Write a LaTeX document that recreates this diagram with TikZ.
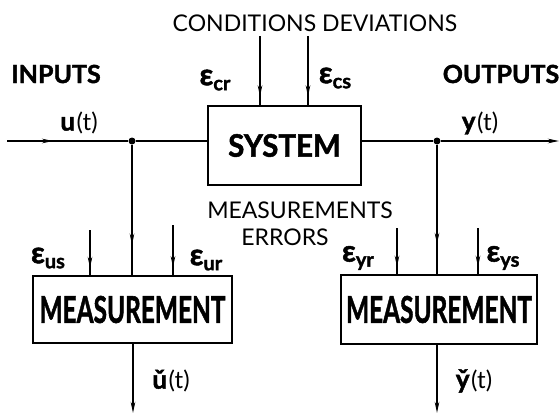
\documentclass[tikz,border=0pt]{standalone}
\usepackage{fontspec}
\setmainfont{Lato}[BoldFeatures={FakeBold=1.6}]
\usetikzlibrary{arrows.meta,positioning,decorations.markings}

\newcommand{\errlab}[1]{{\fontsize{30}{30}\selectfont\bfseries ε}\raisebox{-5pt}{\fontsize{20}{20}\selectfont\bfseries #1}}
\newcommand{\sigt}[1]{{\fontsize{26}{26}\selectfont\bfseries #1}\,{\fontsize{24}{24}\selectfont (t)}}

\begin{document}
\begin{tikzpicture}[x=1pt, y=-1pt,
  line/.style={line width=1.7pt},
  box/.style={draw, line width=2.6pt, inner sep=0pt},
  endtip/.style={-{Stealth[length=11pt,width=4.5pt]}},
  midtip/.style={postaction={decorate}, decoration={markings,
      mark=at position #1 with {\arrow{Stealth[length=11pt,width=4.5pt]}}}},
  dot/.style={circle, fill, inner sep=0pt, minimum size=7pt},
  headtxt/.style={font=\fontsize{25}{25}\selectfont\bfseries},
  plaintxt/.style={font=\fontsize{23}{23}\selectfont},
]
\useasboundingbox (0,0) rectangle (560,415);
% blocks
\node[box, minimum width=153pt, minimum height=79pt,
  font=\fontsize{31}{31}\selectfont\bfseries] (sys) at (284.5,145.5) {\scalebox{0.95}[1]{SYSTEM}};
\node[box, minimum width=199pt, minimum height=67pt,
  font=\fontsize{37}{37}\selectfont\bfseries] (measu) at (132.5,309.5) {\scalebox{0.66}[1]{MEASUREMENT}};
\node[box, minimum width=196pt, minimum height=69pt,
  font=\fontsize{37}{37}\selectfont\bfseries] (measy) at (439,309.5) {\scalebox{0.66}[1]{MEASUREMENT}};
% branch points and free ends
\node[dot] (ju) at (132,141) {};
\node[dot] (jy) at (437,141) {};
\coordinate (uin) at (7,141);
\coordinate (yout) at (559,141);
\coordinate (ccr) at (260,36);
\coordinate (ccs) at (308,36);
\coordinate (eus) at (90,230);
\coordinate (eur) at (173,225);
\coordinate (eyr) at (397,228);
\coordinate (eys) at (478,228);
\coordinate (uo) at (133,413);
\coordinate (yo) at (437,413);
% main signal line
\draw[line, midtip=0.38] (uin) -- (ju);
\draw[line] (ju) -- (ju -| sys.west);
\draw[line] (jy -| sys.east) -- (jy);
\draw[line, endtip] (jy) -- (yout);
% conditions deviations
\draw[line, midtip=0.88] (ccr) -- (ccr |- sys.north);
\draw[line, midtip=0.88] (ccs) -- (ccs |- sys.north);
% branches to the measurements
\draw[line, midtip=0.77] (ju) -- (ju |- measu.north);
\draw[line, midtip=0.77] (jy) -- (jy |- measy.north);
% measurement errors
\foreach \c/\b in {eus/measu, eur/measu, eyr/measy, eys/measy}
  \draw[line, midtip=0.85] (\c) -- (\c |- \b.north);
% measured signals
\draw[line, endtip] (measu.south -| uo) -- (uo);
\draw[line, endtip] (measy.south -| yo) -- (yo);
% labels
\node[plaintxt] (condlab) at (315,23) {CONDITIONS DEVIATIONS};
\node[headtxt] (inlab) at (56,74) {INPUTS};
\node[headtxt] (outlab) at (501,74) {OUTPUTS};
\node (ecr) at (215,80) {\errlab{cr}};
\node (ecs) at (335,78) {\errlab{cs}};
\node (ulab) at (79,123) {\sigt{u}};
\node (ylab) at (480,123) {\sigt{y}};
\node[plaintxt] (measlab) at (300,210) {MEASUREMENTS};
\node[plaintxt] (errlab) at (285,237) {ERRORS};
\node (elus) at (48,258) {\errlab{us}};
\node (elur) at (206,260) {\errlab{ur}};
\node (elyr) at (358,258) {\errlab{yr}};
\node (elys) at (503,258) {\errlab{ys}};
\node (uclab) at (171,381) {\sigt{\v{u}}};
\node (yclab) at (474,381) {\sigt{\v{y}}};
\end{tikzpicture}
\end{document}
